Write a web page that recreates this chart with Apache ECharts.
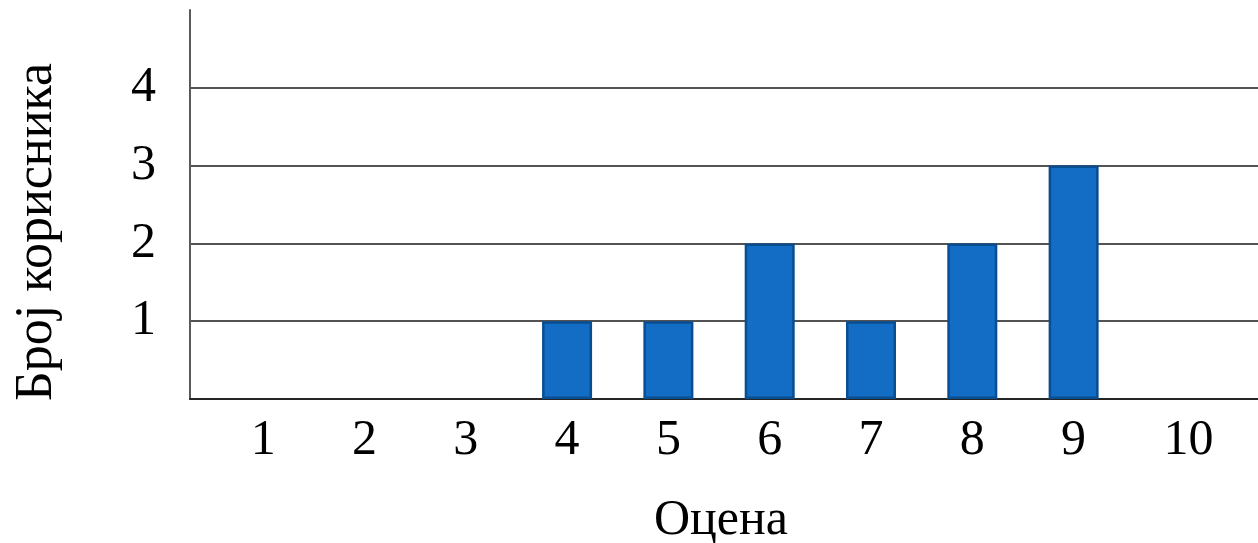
<!DOCTYPE html>
<html>
<head>
<meta charset="utf-8">
<script src="https://cdn.jsdelivr.net/npm/echarts@6/dist/echarts.min.js"></script>
<style>html,body{margin:0;padding:0;background:#fff}#c{width:1258px;height:543px}</style>
</head>
<body>
<div id="c"></div>
<script>
const categories = [1, 2, 3, 4, 5, 6, 7, 8, 9, 10];
const userCounts = [0, 0, 0, 1, 1, 2, 1, 2, 3, 0];
const yTicks = [0, 1, 2, 3, 4, 5];
const xTitle = 'Оцена';
const yTitle = 'Број корисника';

const FONT = '"Liberation Serif", "DejaVu Serif", serif';
const chart = echarts.init(document.getElementById('c'), null, {renderer: 'canvas'});

const seriesData = categories.map((c, i) => {
  const d = {value: [c, userCounts[i]]};
  if (userCounts[i] === 0) d.itemStyle = {borderWidth: 0, opacity: 0};
  return d;
});

chart.setOption({
  animation: false,
  grid: {left: 190, right: 0, top: 10, bottom: 144, containLabel: false},
  xAxis: {
    type: 'value',
    min: 0.278,
    max: 10.82,
    axisLine: {show: true, lineStyle: {color: '#262626', width: 2}},
    axisTick: {show: false},
    splitLine: {show: false},
    axisLabel: {
      customValues: categories,
      formatter: v => {
        const s = String(Math.round(v));
        return s.length > 1 ? '{w|' + s + '}' : s;
      },
      rich: {w: {color: '#000', fontFamily: FONT, fontSize: 50, padding: [0, 0, 0, 27]}},
      color: '#000', fontFamily: FONT, fontSize: 50, margin: 17
    }
  },
  yAxis: {
    type: 'value',
    min: yTicks[0], max: yTicks[yTicks.length - 1], interval: 1,
    axisLine: {show: true, lineStyle: {color: '#595959', width: 2}},
    axisTick: {show: false},
    splitLine: {show: true, lineStyle: {color: ['#1a1a1a','#1a1a1a','#1a1a1a','#1a1a1a','#1a1a1a','rgba(0,0,0,0)'], width: 1.5}},
    axisLabel: {
      formatter: v => (v === 0 || v === 5) ? '' : String(v),
      color: '#000', fontFamily: FONT, fontSize: 50, margin: 34,
      padding: [10, 0, 0, 0]
    }
  },
  graphic: [
    {type: 'text', x: 721, y: 496,
     style: {text: xTitle, font: '50px ' + FONT, fill: '#000', align: 'center', verticalAlign: 'top'}},
    {type: 'text', x: 11, y: 232, rotation: Math.PI / 2,
     style: {text: yTitle, font: '52px ' + FONT, fill: '#000', align: 'center', verticalAlign: 'top'}}
  ],
  series: [{
    type: 'bar',
    data: seriesData,
    barWidth: 50,
    itemStyle: {color: '#136DC4', borderColor: '#0A4E92', borderWidth: 2.5}
  }]
});
</script>
</body>
</html>
